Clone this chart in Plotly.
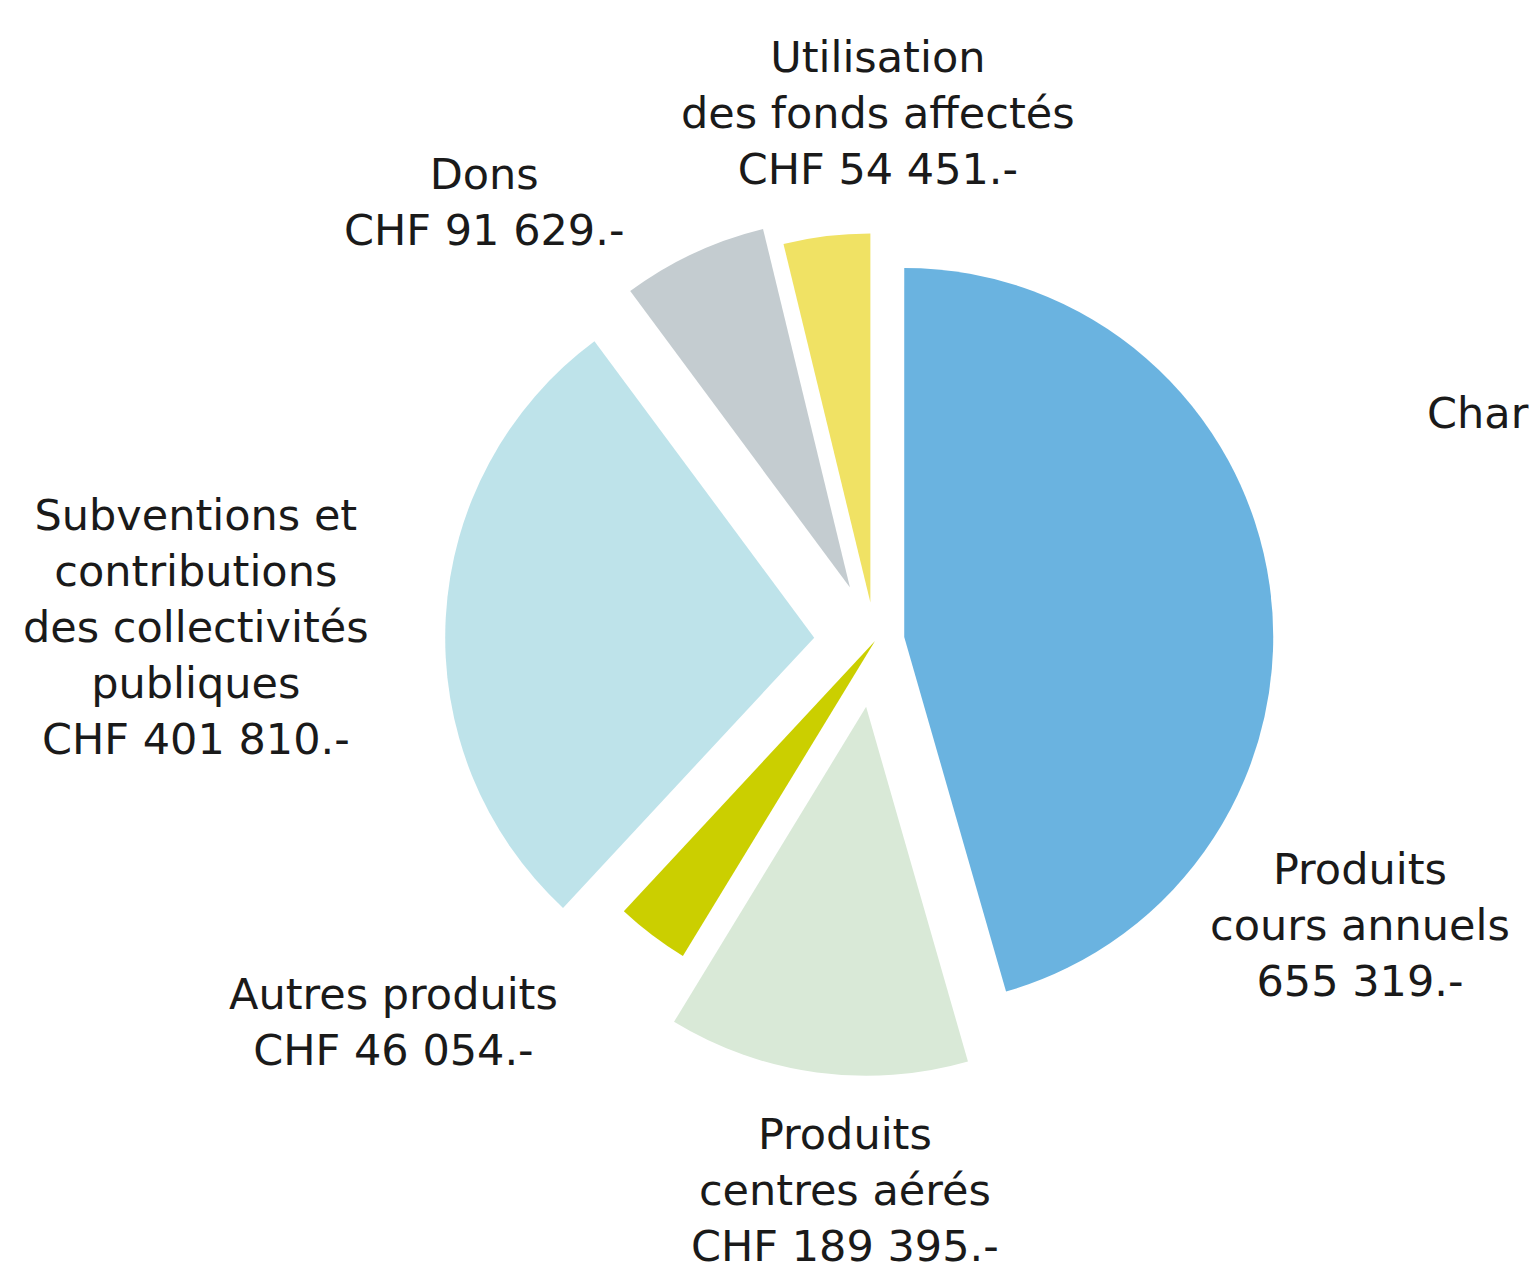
import plotly.graph_objects as go

# Data
categories = [
    "Produits cours annuels",
    "Produits centres aérés",
    "Autres produits",
    "Subventions et contributions des collectivités publiques",
    "Dons",
    "Utilisation des fonds affectés",
]
values = [655319, 189395, 46054, 401810, 91629, 54451]
label_texts = [
    "Produits<br>cours annuels<br>655 319.-",
    "Produits<br>centres aérés<br>CHF 189 395.-",
    "Autres produits<br>CHF 46 054.-",
    "Subventions et<br>contributions<br>des collectivités<br>publiques<br>CHF 401 810.-",
    "Dons<br>CHF 91 629.-",
    "Utilisation<br>des fonds affectés<br>CHF 54 451.-",
]
pulls = [0.08, 0.18, 0.0, 0.165, 0.16, 0.105]
colors = ["#6AB3E0", "#D9E9D7", "#CBCF00", "#BEE3EA", "#C4CCD0", "#F0E264"]

# Label positions in pixels (layout only)
label_px = [
    (1360, 925),
    (845, 1190),
    (394, 1022),
    (196, 627),
    (484, 202),
    (878, 113),
]

W, H = 1529, 1270
cx, cy, r = 875, 641, 369
half = r * (1 + max(pulls))

fig = go.Figure(
    go.Pie(
        labels=categories,
        values=values,
        pull=pulls,
        sort=False,
        direction="clockwise",
        rotation=0,
        textinfo="none",
        hoverinfo="label+value",
        marker=dict(colors=colors, line=dict(width=0)),
        domain=dict(
            x=[(cx - half) / W, (cx + half) / W],
            y=[1 - (cy + half) / H, 1 - (cy - half) / H],
        ),
    )
)

font = dict(family="'DejaVu Sans', Lato, sans-serif", size=43, color="#1a1a1a")
for txt, (px, py) in zip(label_texts, label_px):
    fig.add_annotation(
        x=px / W, y=1 - py / H, xref="paper", yref="paper",
        text=txt, showarrow=False, align="center",
        xanchor="center", yanchor="middle", font=font,
    )

fig.add_annotation(
    x=1425 / W, y=1 - 413 / H, xref="paper", yref="paper",
    text="Charges", showarrow=False, xanchor="left", yanchor="middle", font=font,
)

fig.update_layout(
    width=W, height=H,
    margin=dict(l=0, r=0, t=0, b=0),
    paper_bgcolor="white", plot_bgcolor="white",
    showlegend=False,
)

fig.write_html("out.html")
